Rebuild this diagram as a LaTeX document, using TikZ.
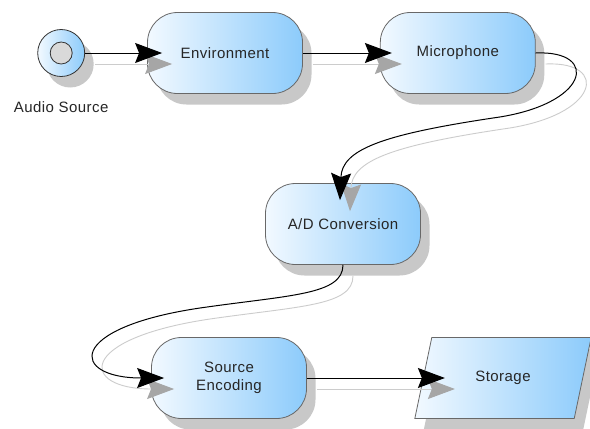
\documentclass[tikz,border=0pt]{standalone}
\usepackage{fontspec}
\setmainfont{Liberation Sans}[LetterSpace=3]
\usetikzlibrary{shapes,arrows.meta,positioning,shadows}
\definecolor{BlockLeft}{HTML}{F2F9FF}
\definecolor{BlockRight}{HTML}{8CCBFB}
\definecolor{BlockLine}{HTML}{686868}
\definecolor{ShadowGrey}{HTML}{C8C8C8}
\tikzstyle{Block} = [rectangle, rounded corners=30pt, draw=BlockLine, line width=0.8pt,
  left color=BlockLeft, right color=BlockRight, minimum height=81pt, minimum width=155pt,
  drop shadow={shadow xshift=9pt, shadow yshift=-11pt, fill=ShadowGrey, opacity=1},
  align=center, font=\fontsize{15}{18}\selectfont, text=black!85]
\tikzstyle{Store} = [Block, sharp corners, trapezium, trapezium left angle=70, trapezium right angle=110,
  trapezium stretches=true, minimum width=177pt]
\tikzstyle{Start} = [circle, draw=black!80, line width=0.8pt, left color=BlockLeft, right color=BlockRight,
  minimum size=47pt, drop shadow={shadow xshift=9pt, shadow yshift=-11pt, fill=ShadowGrey, opacity=1}]
\tikzstyle{Core} = [circle, draw=black!80, line width=0.8pt, fill=black!15, minimum size=22pt]
\tikzstyle{Text} = [font=\fontsize{15}{18}\selectfont, text=black!85]
\tikzstyle{Flow} = [->, line width=1pt]
\tikzstyle{Echo} = [-{Stealth[length=27pt, width=20pt, inset=4pt, color=black!35]}, draw=black!20,
  line width=0.9pt, transform canvas={shift={(10pt,-11pt)}}]

\begin{document}
\begin{tikzpicture}[x=1pt, y=1pt, >={Stealth[length=27pt, width=20pt, inset=4pt]}]
    \useasboundingbox[fill=white] (0,0) rectangle (590,-429);
    \node[Block] (env) at (225,-53)            {Environment};
    \node[Start] (src) [left=62pt of env]      {};
    \node[Core]  (core) at (src)               {};
    \node[Text]  (srclabel) [below=21pt of src] {Audio Source};
    \node[Block] (mic) [right=77pt of env]     {Microphone};
    \node[Block] (adc) at (343,-224)           {A/D Conversion};
    \node[Block] (enc) at (229,-378)           {Source\\Encoding};
    \node[Store] (sto) [right=116pt of enc]    {Storage};
    % shadows of the connectors
    \draw[Echo] (src) -- ([xshift=15pt]env.west);
    \draw[Echo] (env) -- ([xshift=12pt]mic.west);
    \draw[Echo] (mic.east) .. controls (600,-50) and (590,-105) .. (493,-118)
        .. controls (380,-135) and (342,-150) .. ([xshift=-3pt,yshift=-17pt]adc.north);
    \draw[Echo] (adc.south) .. controls (343,-295) and (290,-295) .. (200,-308)
        .. controls (65,-328) and (70,-378) .. ([xshift=13pt]enc.west);
    \draw[Echo] (enc) -- ([xshift=22pt]sto.west);
    % connectors
    \draw[Flow] (src) -- ([xshift=15pt]env.west);
    \draw[Flow] (env) -- ([xshift=12pt]mic.west);
    \draw[Flow] (mic.east) .. controls (600,-50) and (590,-105) .. (493,-118)
        .. controls (380,-135) and (342,-150) .. ([xshift=-3pt,yshift=-17pt]adc.north);
    \draw[Flow] (adc.south) .. controls (343,-295) and (290,-295) .. (200,-308)
        .. controls (65,-328) and (70,-378) .. ([xshift=13pt]enc.west);
    \draw[Flow] (enc) -- ([xshift=22pt]sto.west);
\end{tikzpicture}
\end{document}
